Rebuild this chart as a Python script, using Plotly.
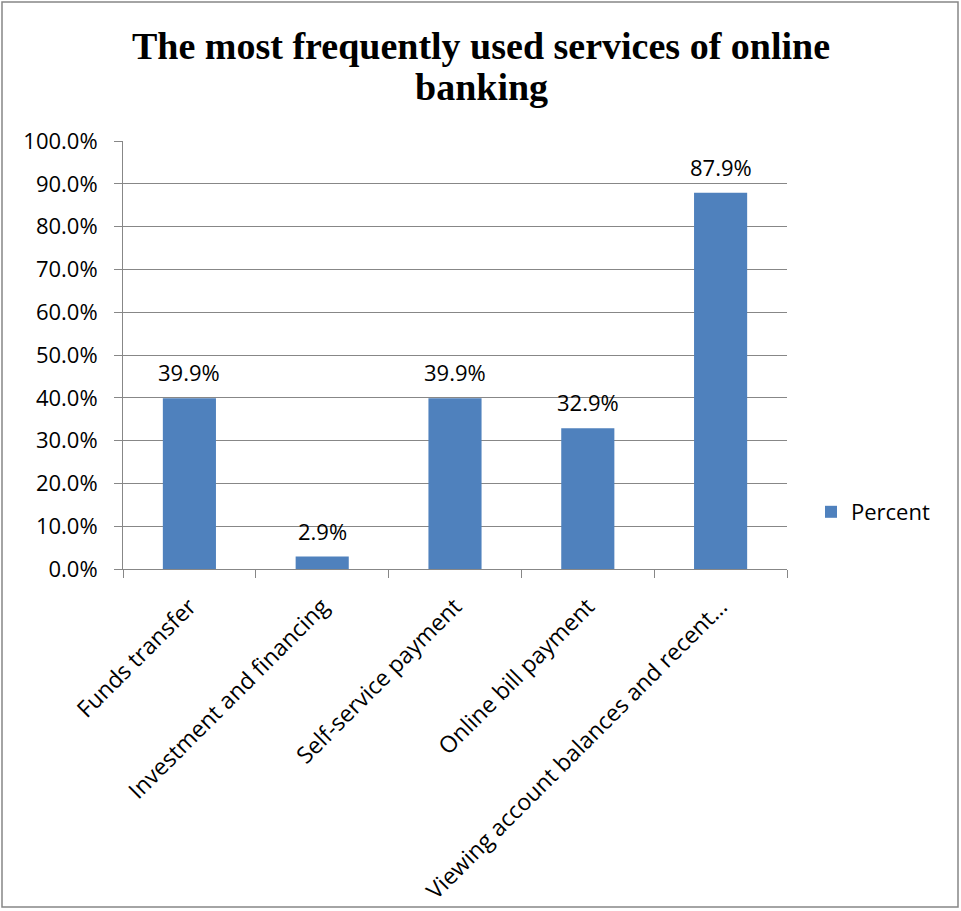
import plotly.graph_objects as go

categories = ["Funds transfer", "Investment and financing", "Self-service payment",
              "Online bill payment", "Viewing account balances and recent…"]
values = [0.399, 0.029, 0.399, 0.329, 0.879]
series_name = "Percent"
title_lines = ["The most frequently used services of online", "banking"]

W, H = 961, 911
L, R, T, B = 123, 961 - 787, 141, 911 - 569
pw, ph = W - L - R, H - T - B

def px_x(x):
    return (x - L) / pw

def px_y(y):
    return (H - B - y) / ph

FONT = "Open Sans"

fig = go.Figure()
fig.add_trace(go.Bar(
    x=categories, y=values, name=series_name,
    marker=dict(color="#4F81BD", line=dict(width=0)),
    width=0.4,
))

for c, v in zip(categories, values):
    fig.add_annotation(x=c, y=v, xref="x", yref="y", text=f"{v*100:.1f}%",
                       showarrow=False, yanchor="middle", yshift=26,
                       font=dict(family=FONT, size=22, color="#000000"))

for i, line in enumerate(title_lines):
    fig.add_annotation(x=px_x(481), y=px_y([46, 87][i]), xref="paper", yref="paper",
                       text=f"<b>{line}</b>", showarrow=False,
                       xanchor="center", yanchor="middle",
                       font=dict(family="Liberation Serif", size=38, color="#000000"))

fig.update_layout(
    width=W, height=H,
    margin=dict(l=L, r=R, t=T, b=B, autoexpand=False),
    paper_bgcolor="white", plot_bgcolor="white",
    showlegend=True,
    legend=dict(x=px_x(811), xanchor="left", y=px_y(512), yanchor="middle",
                font=dict(family=FONT, size=22, color="#000000"),
                bgcolor="rgba(0,0,0,0)", itemwidth=30),
    font=dict(family=FONT, size=22, color="#000000"),
)
fig.update_yaxes(range=[0, 1], dtick=0.1, tickformat=".1%", automargin=False,
                 showgrid=True, gridcolor="#878787", gridwidth=1,
                 showline=True, linecolor="#878787", linewidth=1,
                 ticks="outside", ticklen=8, tickcolor="#878787",
                 ticklabelstandoff=12,
                 tickfont=dict(family=FONT, size=22, color="#000000"),
                 zeroline=False)
fig.update_xaxes(showline=True, linecolor="#878787", linewidth=1, automargin=False,
                 ticks="outside", ticklen=8, tickcolor="#878787",
                 tickson="boundaries", tickangle=-45, ticklabelstandoff=14,
                 tickfont=dict(family=FONT, size=23, color="#000000"))

fig.add_shape(type="rect", xref="paper", yref="paper",
              x0=px_x(2), x1=px_x(958), y0=px_y(907), y1=px_y(2),
              line=dict(color="#868686", width=1.5), fillcolor="rgba(0,0,0,0)", layer="below")

fig.write_html("out.html")
